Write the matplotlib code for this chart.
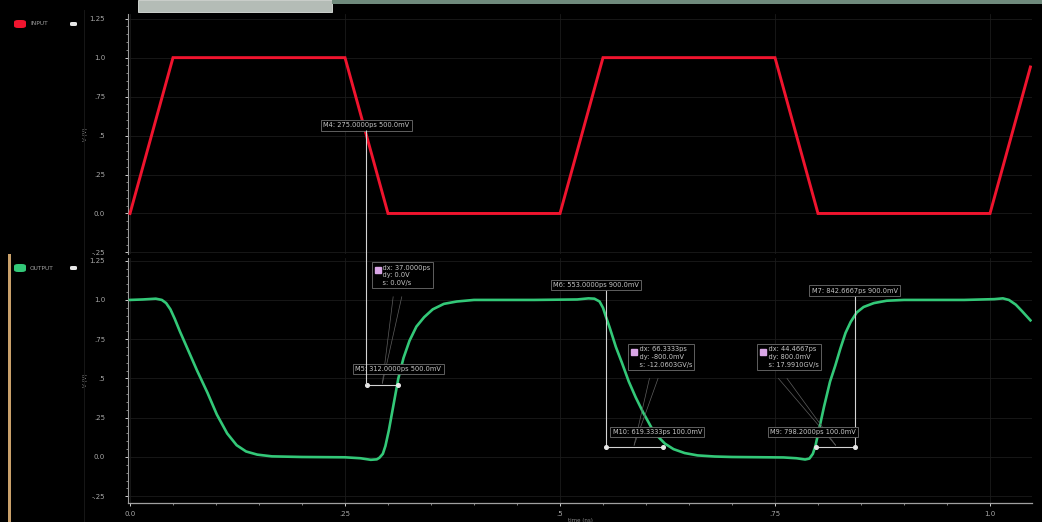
import numpy as np
import matplotlib
matplotlib.use("Agg")
import matplotlib.pyplot as plt
from matplotlib.patches import Rectangle, FancyBboxPatch, ConnectionPatch
from matplotlib.ticker import FixedLocator, MultipleLocator

# ---- waveform data (time in ns, voltage in V) ----
input_t = [0.0, 0.05, 0.25, 0.30, 0.50, 0.55, 0.75, 0.80, 1.00, 1.047]
input_v = [0.0, 1.0, 1.0, 0.0, 0.0, 1.0, 1.0, 0.0, 0.0, 0.94]

output_t = [0.000, 0.015, 0.030, 0.037, 0.042, 0.047, 0.052, 0.058, 0.066, 0.078,
            0.090, 0.101, 0.113, 0.124, 0.135, 0.148, 0.165, 0.200, 0.250, 0.268,
            0.280, 0.287, 0.290, 0.294, 0.297, 0.301, 0.306, 0.312, 0.318, 0.325,
            0.333, 0.342, 0.352, 0.365, 0.380, 0.400, 0.470, 0.520, 0.533, 0.540,
            0.546, 0.550, 0.553, 0.558, 0.565, 0.572, 0.580, 0.588, 0.597, 0.606,
            0.614, 0.622, 0.632, 0.645, 0.660, 0.680, 0.700, 0.760, 0.775, 0.785,
            0.790, 0.794, 0.797, 0.801, 0.807, 0.814, 0.820, 0.826, 0.832, 0.838,
            0.845, 0.853, 0.865, 0.880, 0.900, 0.970, 1.005, 1.015, 1.022, 1.030,
            1.037, 1.047]
output_v = [1.000, 1.003, 1.008, 1.000, 0.980, 0.940, 0.880, 0.800, 0.700, 0.550,
            0.410, 0.270, 0.150, 0.075, 0.035, 0.015, 0.004, 0.000, -0.002, -0.008,
            -0.018, -0.015, -0.005, 0.020, 0.070, 0.170, 0.320, 0.500, 0.630, 0.740,
            0.830, 0.890, 0.940, 0.975, 0.990, 1.000, 1.000, 1.003, 1.010, 1.008,
            0.990, 0.950, 0.900, 0.820, 0.700, 0.600, 0.480, 0.380, 0.280, 0.190,
            0.130, 0.085, 0.050, 0.025, 0.010, 0.003, 0.000, -0.003, -0.008, -0.016,
            -0.010, 0.020, 0.070, 0.170, 0.320, 0.480, 0.580, 0.690, 0.790, 0.860,
            0.920, 0.955, 0.980, 0.995, 1.000, 1.000, 1.005, 1.010, 1.000, 0.970,
            0.930, 0.870]

y_ticks = [-0.25, 0.0, 0.25, 0.5, 0.75, 1.0, 1.25]
y_tick_labels = ["-.25", "0.0", ".25", ".5", ".75", "1.0", "1.25"]
x_ticks = [0.0, 0.25, 0.5, 0.75, 1.0]
x_tick_labels = ["0.0", ".25", ".5", ".75", "1.0"]

RED = "#f0142e"
GREEN = "#33c878"
GREY_TXT = "#a8a8a8"
BOX_EC = "#6e6e6e"
PINK = "#d9a6e6"


def crossing(ts, vs, level, t_lo, t_hi, rising):
    """First time inside [t_lo, t_hi] where the polyline crosses `level`."""
    for i in range(len(ts) - 1):
        t0, t1, v0, v1 = ts[i], ts[i + 1], vs[i], vs[i + 1]
        if t1 < t_lo or t0 > t_hi:
            continue
        if rising and v0 < level <= v1 or (not rising) and v0 > level >= v1:
            return t0 + (level - v0) * (t1 - t0) / (v1 - v0)
    return None


W, H = 1042, 522
fig = plt.figure(figsize=(W / 100, H / 100), dpi=100, facecolor="black")


def px_rect(x0, y0, x1, y1):
    return [x0 / W, 1 - y1 / H, (x1 - x0) / W, (y1 - y0) / H]


ax_in = fig.add_axes(px_rect(128, 14, 1032, 254))
ax_out = fig.add_axes(px_rect(128, 258, 1032, 503))

XLIM = (-2 / 860, 902 / 860)
ax_in.set_ylim(-0.26, 1.28)
ax_out.set_ylim(-0.293, 1.267)

for ax in (ax_in, ax_out):
    ax.set_facecolor("black")
    ax.set_xlim(*XLIM)
    for s in ("top", "right"):
        ax.spines[s].set_visible(False)
    ax.spines["left"].set_color("#9a9a9a")
    ax.spines["left"].set_linewidth(0.8)
    ax.yaxis.set_major_locator(FixedLocator(y_ticks))
    ax.set_yticklabels(y_tick_labels)
    ax.yaxis.set_minor_locator(MultipleLocator(0.05))
    ax.tick_params(axis="y", which="major", length=2.5, width=0.7, color="#cfcfcf",
                   labelsize=5, labelcolor=GREY_TXT, pad=14)
    ax.tick_params(axis="y", which="minor", length=1.5, width=0.5, color="#bdbdbd")
    ax.xaxis.set_major_locator(FixedLocator(x_ticks))
    ax.xaxis.set_minor_locator(MultipleLocator(0.05))
    ax.grid(True, which="major", color="#1b1b1b", lw=0.6)
    ax.set_ylabel("V (V)", fontsize=4, color="#8a8a8a")
    ax.yaxis.set_label_coords(-0.044, 0.5)

ax_in.spines["bottom"].set_visible(False)
ax_in.tick_params(axis="x", which="both", length=0, labelbottom=False)

ax_out.spines["bottom"].set_color("#a0a0a0")
ax_out.spines["bottom"].set_linewidth(0.9)
ax_out.set_xticklabels(x_tick_labels)
ax_out.tick_params(axis="x", which="major", length=2.5, width=0.7, color="#cfcfcf",
                   labelsize=5, labelcolor=GREY_TXT, pad=3)
ax_out.tick_params(axis="x", which="minor", length=1.5, width=0.5, color="#bdbdbd")
ax_out.set_xlabel("time (ns)", fontsize=4, color="#8a8a8a", labelpad=1)

# ---- signals ----
ax_in.plot(input_t, input_v, color=RED, lw=2.1, solid_joinstyle="miter", zorder=4)
ax_out.plot(output_t, output_v, color=GREEN, lw=1.9, zorder=4)

# ---- measurement markers ----
t_m4 = crossing(input_t, input_v, 0.5, 0.2, 0.35, rising=False)
t_m5 = crossing(output_t, output_v, 0.5, 0.25, 0.40, rising=True)
t_m6 = crossing(output_t, output_v, 0.9, 0.50, 0.70, rising=False)
t_m10 = crossing(output_t, output_v, 0.1, 0.50, 0.70, rising=False)
t_m9 = crossing(output_t, output_v, 0.1, 0.75, 0.90, rising=True)
t_m7 = crossing(output_t, output_v, 0.9, 0.75, 0.90, rising=True)

LINE_C = "#d4d4d4"
box_style = dict(boxstyle="square,pad=0.35", fc="black", ec=BOX_EC, lw=0.6)


def marker_label(ax, t, y, text, dx=0.0):
    ax.text(t + dx, y, text, fontsize=4.8, color="#c6c6c6", ha="center", va="center",
            bbox=box_style, zorder=7)


def dx_bar(ax, t1, t2, y):
    ax.plot([t1, t2], [y, y], color=LINE_C, lw=0.8, zorder=6)
    ax.plot([t1, t2], [y, y], ls="none", marker="o", ms=2.6, color="#e8e8e8", zorder=6)


def delta_box(ax, t_left, y_top, lines, target):
    txt = "\n".join("    " + s for s in lines)
    ax.text(t_left, y_top, txt, fontsize=4.8, color="#c6c6c6", ha="left", va="top",
            linespacing=1.35, bbox=box_style, zorder=7)
    ax.plot([t_left + 0.004], [y_top - 0.035], marker="s", ms=4.2, color=PINK,
            ls="none", zorder=8)
    bx = t_left + 0.022
    by = y_top - 0.205
    for off in (0.0, 0.010):
        ax.plot([bx + off, target[0]], [by, target[1]], color="#5e5e5e", lw=0.5, zorder=5)


# M4 on the input falling edge, M5 on the output rising edge
marker_label(ax_in, t_m4, 0.565, f"M4: {t_m4 * 1000:.4f}ps 500.0mV")
fig.add_artist(ConnectionPatch(xyA=(t_m4, 0.53), coordsA=ax_in.transData,
                               xyB=(t_m4, 0.46), coordsB=ax_out.transData,
                               color=LINE_C, lw=0.8, zorder=6))
marker_label(ax_out, t_m5, 0.56, f"M5: {t_m5 * 1000:.4f}ps 500.0mV")
dx_bar(ax_out, t_m4, t_m5, 0.46)
d45 = (t_m5 - t_m4) * 1000
delta_box(ax_out, t_m4 + 0.009, 1.225,
          [f"dx: {d45:.4f}ps", "dy: 0.0V", "s: 0.0V/s"],
          ((t_m4 + t_m5) / 2, 0.47))

# M6 / M10 on the output falling edge
ax_out.plot([t_m6, t_m6], [1.065, 0.064], color=LINE_C, lw=0.8, zorder=6)
marker_label(ax_out, t_m6, 1.095, f"M6: {t_m6 * 1000:.4f}ps 900.0mV", dx=-0.011)
marker_label(ax_out, t_m10, 0.16, f"M10: {t_m10 * 1000:.4f}ps 100.0mV", dx=-0.006)
dx_bar(ax_out, t_m6, t_m10, 0.064)
d610 = (t_m10 - t_m6) * 1000
s610 = 0.8 / (d610 * 1e-12) / 1e9
delta_box(ax_out, 0.582, 0.705,
          [f"dx: {d610:.4f}ps", "dy: -800.0mV", f"s: -{s610:.4f}GV/s"],
          ((t_m6 + t_m10) / 2, 0.075))

# M9 / M7 on the output rising edge
ax_out.plot([t_m7, t_m7], [1.03, 0.064], color=LINE_C, lw=0.8, zorder=6)
marker_label(ax_out, t_m7, 1.06, f"M7: {t_m7 * 1000:.4f}ps 900.0mV")
marker_label(ax_out, t_m9, 0.16, f"M9: {t_m9 * 1000:.4f}ps 100.0mV", dx=-0.004)
dx_bar(ax_out, t_m9, t_m7, 0.064)
d97 = (t_m7 - t_m9) * 1000
s97 = 0.8 / (d97 * 1e-12) / 1e9
delta_box(ax_out, 0.732, 0.705,
          [f"dx: {d97:.4f}ps", "dy: 800.0mV", f"s: {s97:.4f}GV/s"],
          ((t_m9 + t_m7) / 2, 0.075))

# ---- side panel with trace names ----
def px_to_fig(x, y):
    return x / W, 1 - y / H


def trace_tag(y, color, name):
    x0, y0 = px_to_fig(14, y + 4)
    fig.add_artist(FancyBboxPatch((x0, y0), 12 / W, 8 / H,
                                  boxstyle="round,pad=0.0,rounding_size=0.004",
                                  fc=color, ec="none", transform=fig.transFigure))
    fig.text(*px_to_fig(30, y), name, fontsize=4.2, color="#a0a0a0", va="center")
    xe, ye = px_to_fig(70, y + 2)
    fig.add_artist(FancyBboxPatch((xe, ye), 7 / W, 4 / H,
                                  boxstyle="round,pad=0.0,rounding_size=0.002",
                                  fc="#e6e6e6", ec="none", transform=fig.transFigure))


trace_tag(24, RED, "INPUT")
trace_tag(268, GREEN, "OUTPUT")

# panel separators and window chrome
fig.add_artist(Rectangle(px_to_fig(84, 522), 1 / W, 512 / H, fc="#161616", ec="none",
                         transform=fig.transFigure))
fig.add_artist(Rectangle(px_to_fig(8, 522), 2.5 / W, 268 / H, fc="#c9a06a", ec="none",
                         transform=fig.transFigure))
fig.add_artist(Rectangle(px_to_fig(138, 12), 194 / W, 12 / H, fc="#b4bcb6", ec="#dfe3df",
                         lw=0.6, transform=fig.transFigure))
fig.add_artist(Rectangle(px_to_fig(332, 4), 710 / W, 4 / H, fc="#6f8a7c", ec="none",
                         transform=fig.transFigure))

fig.savefig("out.png", dpi=100, facecolor="black")
